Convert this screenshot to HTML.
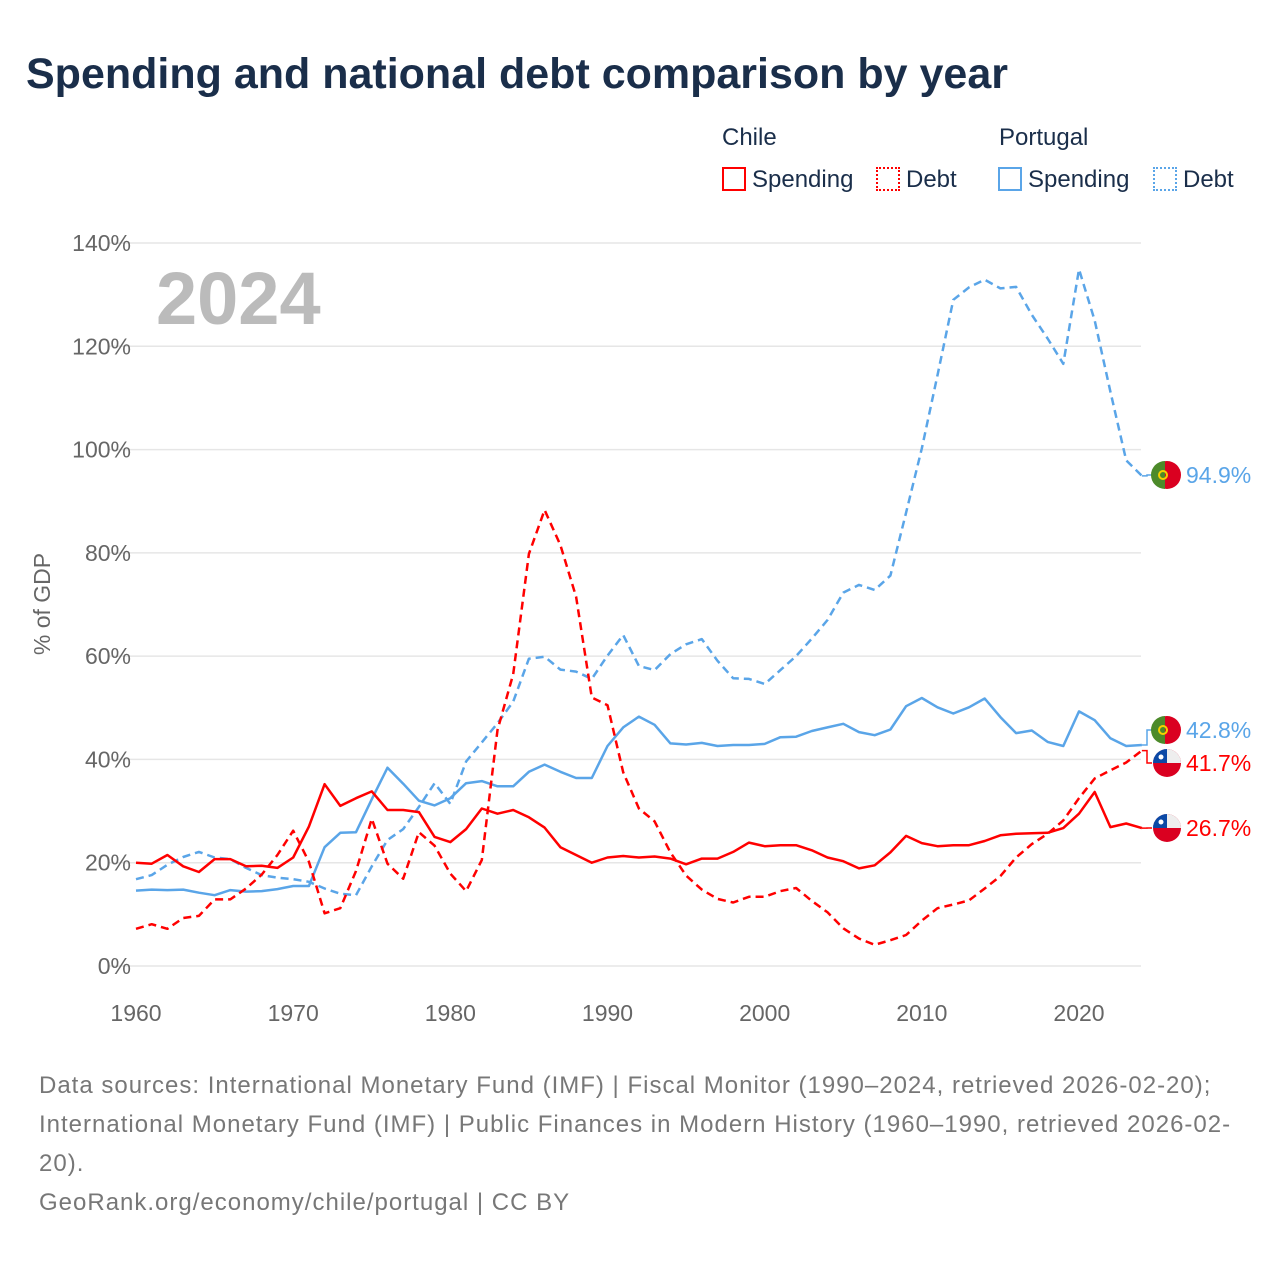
<!DOCTYPE html>
<html><head><meta charset="utf-8">
<style>
body{margin:0;background:#fff;font-family:"Liberation Sans",sans-serif;}
#wrap{position:relative;width:1280px;height:1280px;overflow:hidden;}
.t{position:absolute;white-space:nowrap;}
</style></head>
<body>
<div id="wrap">
<div class="t" style="left:26px;top:50px;font-size:43px;font-weight:bold;color:#1a2e4a;">Spending and national debt comparison by year</div>
<div class="t" style="left:722px;top:124px;font-size:24px;color:#1a2e4a;">Chile</div>
<div class="t" style="left:999px;top:124px;font-size:24px;color:#1a2e4a;">Portugal</div>
<div class="t" style="left:722px;top:166px;font-size:24px;color:#1a2e4a;"><span style="display:inline-block;width:20px;height:20px;border:2px solid #f00;vertical-align:-4px;margin-right:6px;"></span>Spending</div>
<div class="t" style="left:876px;top:166px;font-size:24px;color:#1a2e4a;"><span style="display:inline-block;width:20px;height:20px;border:2px dotted #f00;vertical-align:-4px;margin-right:6px;"></span>Debt</div>
<div class="t" style="left:998px;top:166px;font-size:24px;color:#1a2e4a;"><span style="display:inline-block;width:20px;height:20px;border:2px solid #5aa5e8;vertical-align:-4px;margin-right:6px;"></span>Spending</div>
<div class="t" style="left:1153px;top:166px;font-size:24px;color:#1a2e4a;"><span style="display:inline-block;width:20px;height:20px;border:2px dotted #5aa5e8;vertical-align:-4px;margin-right:6px;"></span>Debt</div>
<svg id="chart" width="1280" height="1280" style="position:absolute;left:0;top:0;"></svg>
<div class="t" style="left:39px;top:1066px;font-size:24px;letter-spacing:1px;line-height:39px;color:#777;">Data sources: International Monetary Fund (IMF) | Fiscal Monitor (1990–2024, retrieved 2026-02-20);<br>International Monetary Fund (IMF) | Public Finances in Modern History (1960–1990, retrieved 2026-02-<br>20).<br>GeoRank.org/economy/chile/portugal | CC BY</div>
</div>
<script>
const years=[];for(let y=1960;y<=2024;y++)years.push(y);
const chileSpending=[20,19.8,21.5,19.3,18.2,20.7,20.7,19.3,19.4,19,21,27,35.2,31,32.5,33.8,30.2,30.2,29.8,25,24,26.5,30.5,29.5,30.2,28.8,26.8,23,21.5,20,21,21.3,21,21.2,20.8,19.7,20.8,20.8,22.1,23.9,23.2,23.4,23.4,22.4,21,20.3,18.9,19.5,22,25.2,23.8,23.2,23.4,23.4,24.2,25.3,25.6,25.7,25.8,26.7,29.5,33.7,26.9,27.6,26.7];
const chileDebt=[7.2,8.1,7.2,9.3,9.7,12.9,12.9,15,17.7,21.5,26.2,20.2,10.2,11.2,18.4,28.5,19.8,16.9,25.9,23.3,17.9,14.5,20.5,45.7,56.5,79.8,88.3,81.5,71.5,52,50.5,37.5,30.5,28,22,17.5,14.8,13,12.3,13.4,13.4,14.5,15.1,12.6,10.4,7.3,5.3,4.1,5,6,8.8,11.2,11.9,12.7,15,17.4,21,23.6,25.6,28.2,32.5,36.3,37.9,39.4,41.7];
const portugalSpending=[14.6,14.8,14.7,14.8,14.2,13.7,14.7,14.4,14.5,14.9,15.5,15.5,23,25.8,25.9,32.3,38.4,35.3,32,31.1,32.5,35.4,35.8,34.8,34.8,37.6,39,37.6,36.4,36.4,42.6,46.2,48.3,46.7,43.1,42.9,43.2,42.6,42.8,42.8,43,44.3,44.4,45.5,46.2,46.9,45.3,44.7,45.8,50.3,51.9,50.1,48.9,50.1,51.8,48.2,45.1,45.6,43.4,42.6,49.3,47.6,44.1,42.6,42.8];
const portugalDebt=[16.8,17.6,19.6,21.1,22.1,21,20.7,19,17.6,17.1,16.8,16.3,15,14,13.7,19.3,24.4,26.5,30.8,35.4,31.4,39.6,43.3,47,51.2,59.5,59.9,57.4,57,55.6,60.1,64.1,58.1,57.3,60.4,62.3,63.3,59.1,55.7,55.6,54.6,57.3,60,63.4,67,72.3,73.8,72.8,75.6,87.8,100.2,114.4,129,131.4,132.9,131.2,131.5,126.1,121.5,116.6,134.9,125,111.2,97.9,94.9];
const yTicks=[0,20,40,60,80,100,120,140];
const xTicks=[1960,1970,1980,1990,2000,2010,2020];

const svg=document.getElementById('chart');const NS='http://www.w3.org/2000/svg';
const X=y=>136+(y-1960)*(1079-136)/60;
const Y=v=>966-v*(966-243)/140;
function mk(tag,attrs,parent){const e=document.createElementNS(NS,tag);for(const k in attrs)e.setAttribute(k,attrs[k]);(parent||svg).appendChild(e);return e;}
yTicks.forEach(v=>{
 const l=mk('line',{x1:108,x2:1141,y1:Y(v),y2:Y(v),stroke:'#e6e6e6','stroke-width':1.5});
 
 
 const t=mk('text',{x:131,y:Y(v)+8,'text-anchor':'end','font-size':23,fill:'#666','font-family':'Liberation Sans, sans-serif'});
 t.textContent=v+'%';
 
 
});
xTicks.forEach(v=>{
 const t=mk('text',{x:X(v),y:1021,'text-anchor':'middle','font-size':23,fill:'#666','font-family':'Liberation Sans, sans-serif'});
 t.textContent=v;
 
 
});
const yt=mk('text',{x:0,y:0,transform:'translate(50,604) rotate(-90)','text-anchor':'middle','font-size':23,fill:'#666','font-family':'Liberation Sans, sans-serif'});
yt.textContent='% of GDP';


const yr=mk('text',{x:156,y:324,'font-size':74,'font-weight':'bold',fill:'#bbb','font-family':'Liberation Sans, sans-serif'});
yr.textContent='2024';


function series(data,color,dash,name){
 const p=mk('path',{d:data.map((v,i)=>(i?'L':'M')+X(years[i]).toFixed(1)+','+Y(v).toFixed(1)).join(''),fill:'none',stroke:color,'stroke-width':2.5,'stroke-linejoin':'round'});
 if(dash)p.setAttribute('stroke-dasharray','8,5');
 
 
}
series(portugalDebt,'#5aa5e8',true,'portugal-debt-line');
series(portugalSpending,'#5aa5e8',false,'portugal-spending-line');
series(chileDebt,'#f00',true,'chile-debt-line');
series(chileSpending,'#f00',false,'chile-spending-line');
function endLabel(val,labelY,color,flag,name){
 const x0=X(2024),y0=Y(val);
 mk('path',{d:`M${x0},${y0}H1147V${labelY}H1152`,fill:'none',stroke:color,'stroke-width':1.5});
 const g=mk('g',{});
 
 
 const cx=1167;
 if(flag==='pt'){
  mk('circle',{cx,cy:labelY,r:14,fill:'#da0020'},g);
  mk('path',{d:`M${cx-2},${labelY-14}A14,14 0 0 0 ${cx-2},${labelY+14}Z`,fill:'#4c8a2a'},g);
  mk('circle',{cx:cx-4,cy:labelY,r:4,fill:'none',stroke:'#f5d000','stroke-width':2},g);
 } else {
  mk('circle',{cx,cy:labelY,r:14,fill:'#da0020'},g);
  mk('path',{d:`M${cx-14},${labelY}A14,14 0 0 1 ${cx+14},${labelY}Z`,fill:'#eee'},g);
  mk('path',{d:`M${cx-14},${labelY}A14,14 0 0 1 ${cx},${labelY-14}V${labelY}Z`,fill:'#0b49a6'},g);
  mk('circle',{cx:cx-6,cy:labelY-6,r:2.5,fill:'#fff'},g);
 }
 const t=mk('text',{x:1186,y:labelY+8,'font-size':23,fill:color,'font-family':'Liberation Sans, sans-serif'});
 t.textContent=val.toFixed(1)+'%';
 
 
}
endLabel(portugalDebt[64],475,'#5aa5e8','pt','portugal-debt-end');
endLabel(portugalSpending[64],730,'#5aa5e8','pt','portugal-spending-end');
endLabel(chileDebt[64],763,'#f00','cl','chile-debt-end');
endLabel(chileSpending[64],828,'#f00','cl','chile-spending-end');
</script>
</body></html>
